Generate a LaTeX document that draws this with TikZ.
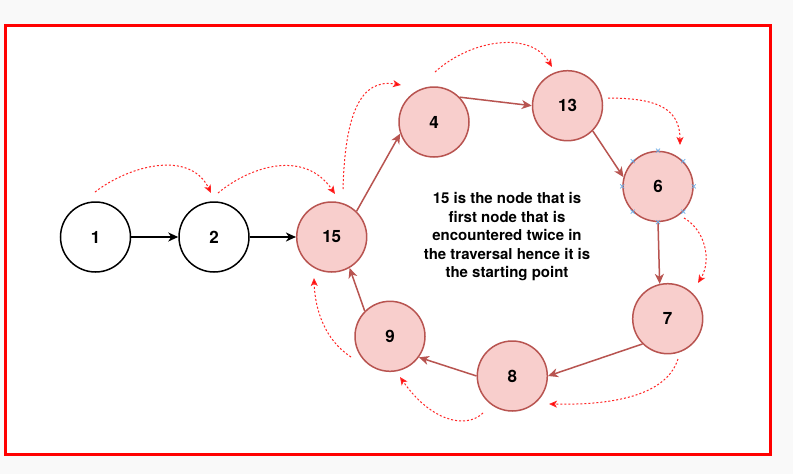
\documentclass[tikz,border=0pt]{standalone}
\usepackage{fontspec}
\setmainfont{TeX Gyre Heros}
\usetikzlibrary{arrows.meta,calc}
\definecolor{nodefill}{HTML}{F8CECC}
\definecolor{nodeline}{HTML}{B85450}
\definecolor{pagebg}{HTML}{F9F9F9}
\definecolor{selblue}{HTML}{6FAEE6}
\tikzset{
  plain/.style={circle, draw=black, fill=white, line width=1.5pt, minimum size=70pt, inner sep=0pt, font=\fontsize{17}{20}\selectfont\bfseries},
  loopnode/.style={circle, draw=nodeline, fill=nodefill, line width=1.5pt, minimum size=70pt, inner sep=0pt, font=\fontsize{17}{20}\selectfont\bfseries},
  blackarrow/.style={draw=black, line width=1.5pt, -{Stealth[length=10pt,width=9pt,inset=3pt]}},
  redarrow/.style={draw=nodeline, line width=1.5pt, -{Stealth[length=10pt,width=9pt,inset=3pt]}},
  dotarrow/.style={draw=red!85, line width=1pt, dash pattern=on 2pt off 2pt, -{Stealth[length=8pt,width=7pt,inset=2pt,fill=red]}},
  selmark/.style={draw=selblue, line width=0.8pt}
}
\begin{document}
\begin{tikzpicture}[x=1pt,y=-1pt]
\useasboundingbox (0,0) rectangle (793,474);
\fill[pagebg] (0,0) rectangle (793,474);
\draw[red, line width=3pt, fill=white] (5.5,25.5) rectangle (770,454.5);

\node[plain] (n1) at (95.5,237) {1};
\node[plain] (n2) at (214,237) {2};
\node[loopnode] (n15) at (331.7,237) {15};
\node[loopnode] (n4) at (434,122) {4};
\node[loopnode] (n13) at (567.5,105.7) {13};
\node[loopnode] (n6) at (658,186.4) {6};
\node[loopnode] (n7) at (667.7,318.7) {7};
\node[loopnode] (n8) at (512.3,376) {8};
\node[loopnode] (n9) at (390,336.3) {9};

\node[align=center, font=\fontsize{15}{18.5}\selectfont\bfseries] (txt) at (507,237)
  {15 is the node that is\\first node that is\\encountered twice in\\the traversal hence it is\\the starting point};

\draw[blackarrow] (n1) -- (n2);
\draw[blackarrow] (n2) -- (n15);
\draw[redarrow] (n15.46) -- (n4.199);
\draw[redarrow] (n4.44) -- (n13.180);
\draw[redarrow] (n13.-45) -- (n6.165);
\draw[redarrow] (n6.-90) -- (n7.103);
\draw[redarrow] (n7.-135) -- (n8.0);
\draw[redarrow] (n8.180) -- (n9.-36);
\draw[redarrow] (n9.135) -- (n15.-60);

\foreach \a in {0,45,...,315}{
  \draw[selmark] ($(n6.\a)+(-2,-2)$) -- ++(4,4) ($(n6.\a)+(-2,2)$) -- ++(4,-4);
}

\coordinate (d1s) at (95,192);   \coordinate (d1e) at (211,193);
\coordinate (d2s) at (218,193);  \coordinate (d2e) at (335,194);
\coordinate (d3s) at (343,189);  \coordinate (d3e) at (401,85);
\coordinate (d4s) at (435,72);   \coordinate (d4e) at (552,67);
\coordinate (d5s) at (608,98);   \coordinate (d5e) at (680,145);
\coordinate (d6s) at (684,218);  \coordinate (d6e) at (698,283);
\coordinate (d7s) at (678,359);  \coordinate (d7e) at (549,404);
\coordinate (d8s) at (483,413);  \coordinate (d8e) at (400,377);
\coordinate (d9s) at (351,357);  \coordinate (d9e) at (314,278);

\draw[dotarrow] (d1s) .. controls (130,165) and (190,150) .. (d1e);
\draw[dotarrow] (d2s) .. controls (252,165) and (305,150) .. (d2e);
\draw[dotarrow] (d3s) .. controls (345,115) and (360,78) .. (d3e);
\draw[dotarrow] (d4s) .. controls (470,40) and (530,30) .. (d4e);
\draw[dotarrow] (d5s) .. controls (660,98) and (680,110) .. (d5e);
\draw[dotarrow] (d6s) .. controls (705,230) and (712,260) .. (d6e);
\draw[dotarrow] (d7s) .. controls (665,400) and (600,405) .. (d7e);
\draw[dotarrow] (d8s) .. controls (465,430) and (430,420) .. (d8e);
\draw[dotarrow] (d9s) .. controls (325,340) and (315,310) .. (d9e);
\end{tikzpicture}
\end{document}
